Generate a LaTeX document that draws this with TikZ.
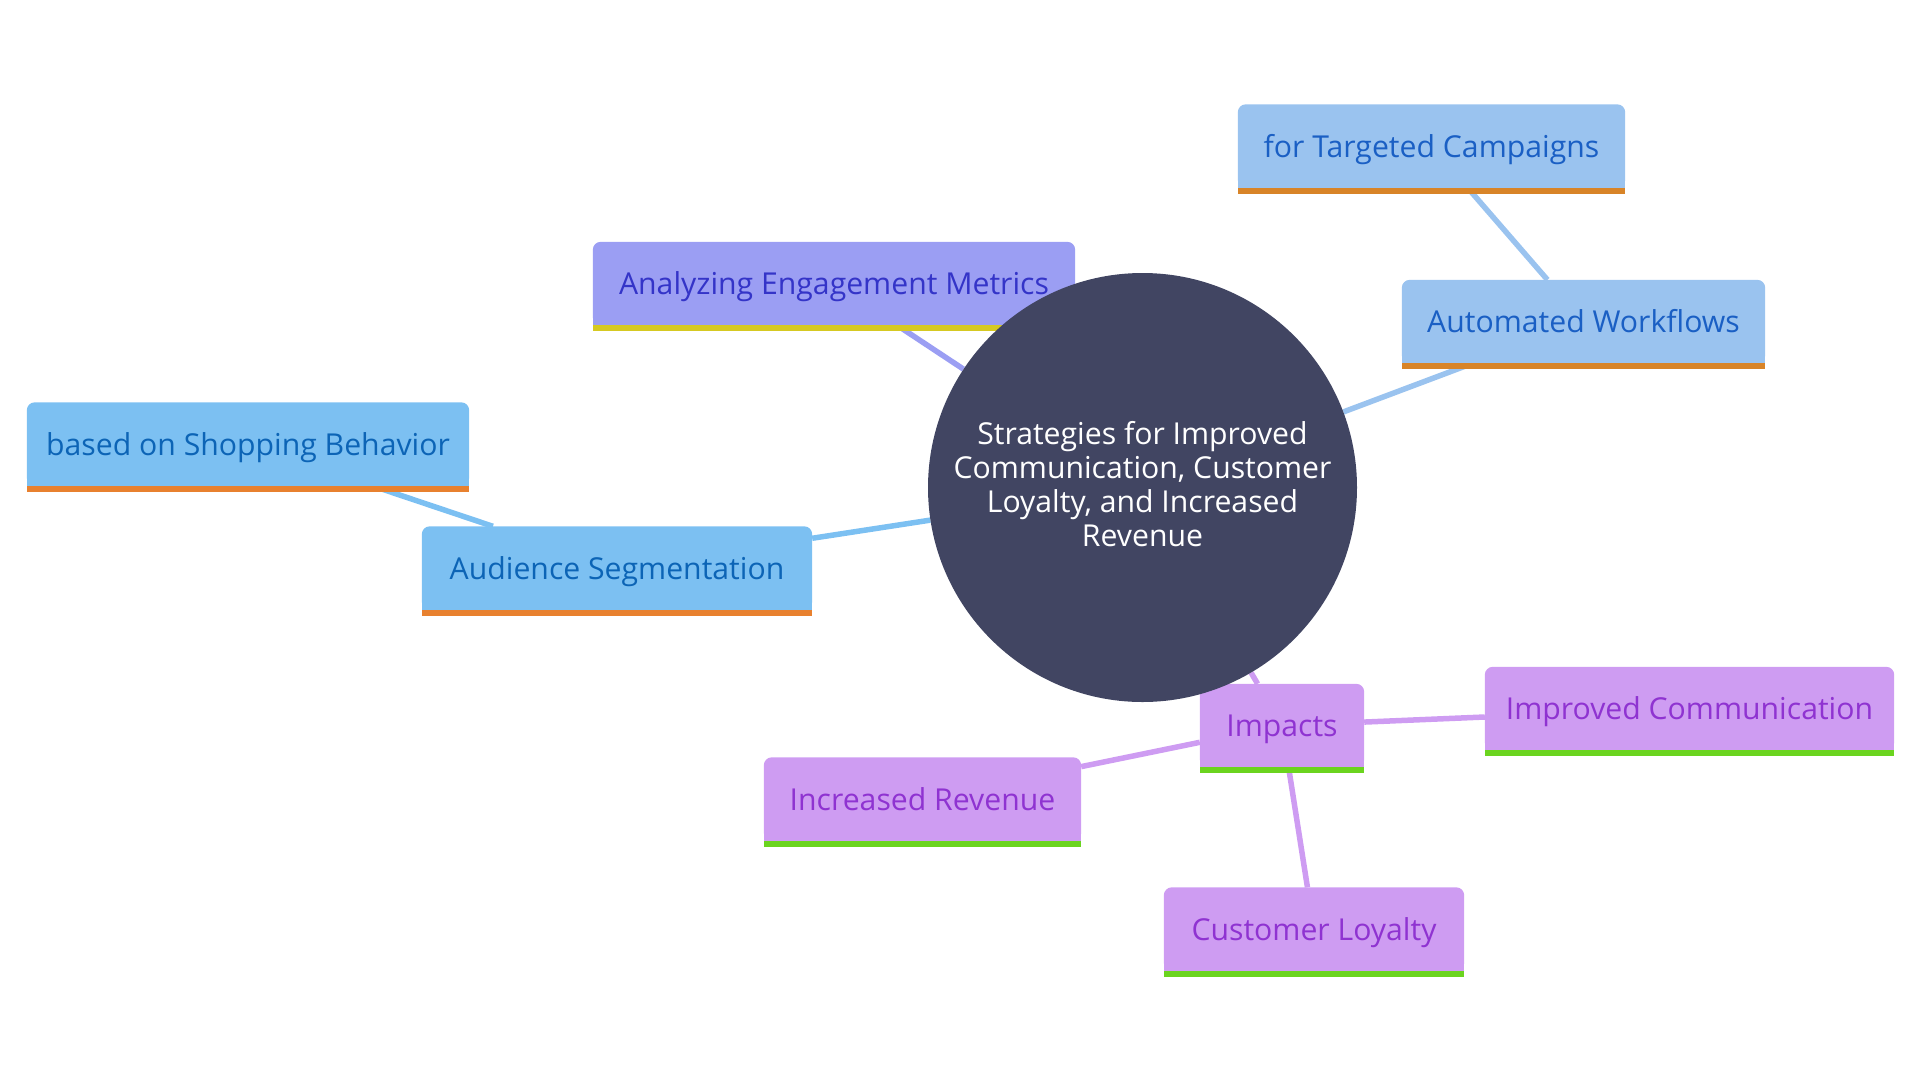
\documentclass[tikz,border=0pt]{standalone}
\usepackage{fontspec}
\setmainfont{Open Sans}
\usetikzlibrary{backgrounds}
\definecolor{hubfill}{HTML}{414562}
\definecolor{anfill}{HTML}{9B9EF3}
\definecolor{antext}{HTML}{3434C8}
\definecolor{anbar}{HTML}{D6C922}
\definecolor{ltfill}{HTML}{9AC3EF}
\definecolor{lttext}{HTML}{1A5FC4}
\definecolor{ltbar}{HTML}{D88428}
\definecolor{bufill}{HTML}{7CC0F2}
\definecolor{butext}{HTML}{0C64B6}
\definecolor{bubar}{HTML}{E8812F}
\definecolor{pufill}{HTML}{CE9CF2}
\definecolor{putext}{HTML}{8F33D1}
\definecolor{pubar}{HTML}{6BD41F}

\begin{document}
\begin{tikzpicture}[x=1pt,y=-1pt]
\tikzstyle{every node}+=[inner sep=0pt, font=\fontsize{30.2}{34}\selectfont]
\tikzstyle{box}=[minimum height=83pt, text height=29pt, text depth=7pt]
\useasboundingbox (0,0) rectangle (1920,1080);
\node [circle, fill=hubfill, minimum size=429pt, text=white, align=center, text depth=7pt] (hub) at (1142.5,487.5) {Strategies for Improved\\Communication, Customer\\Loyalty, and Increased\\Revenue};
\node [box, minimum width=482pt, text=antext] (anal) at (834,283.5) {Analyzing Engagement Metrics};
\node [box, minimum width=363pt, text=lttext] (auto) at (1583.5,321.5) {Automated Workflows};
\node [box, minimum width=387pt, text=lttext] (targ) at (1431.5,146) {for Targeted Campaigns};
\node [box, minimum width=390pt, text=butext] (seg) at (617,568) {Audience Segmentation};
\node [box, minimum width=442pt, text=butext] (shop) at (248,444) {based on Shopping Behavior};
\node [box, minimum width=164pt, text=putext] (imp) at (1282,725.5) {Impacts};
\node [box, minimum width=409pt, text=putext] (comm) at (1689.5,708.5) {Improved Communication};
\node [box, minimum width=317pt, text=putext] (rev) at (922.5,799) {Increased Revenue};
\node [box, minimum width=300pt, text=putext] (loy) at (1314,929) {Customer Loyalty};
\begin{scope}[on background layer]
\foreach \a/\b/\c in {hub/anal/anfill, hub/auto/ltfill, auto/targ/ltfill, hub/seg/bufill, seg/shop/bufill, hub/imp/pufill, imp/comm/pufill, imp/rev/pufill, imp/loy/pufill}
  \draw [\c, line width=5.5pt] (\a) -- (\b);
\foreach \n/\f/\l in {anal/anfill/anbar, auto/ltfill/ltbar, targ/ltfill/ltbar, seg/bufill/bubar, shop/bufill/bubar, imp/pufill/pubar, comm/pufill/pubar, rev/pufill/pubar, loy/pufill/pubar} {
  \fill [\f, rounded corners=8pt] (\n.south west) rectangle (\n.north east);
  \fill [\f] (\n.south west) rectangle ([yshift=12pt]\n.south east);
  \fill [\l] (\n.south west) rectangle ([yshift=-6pt]\n.south east);
}
\end{scope}
\end{tikzpicture}
\end{document}
